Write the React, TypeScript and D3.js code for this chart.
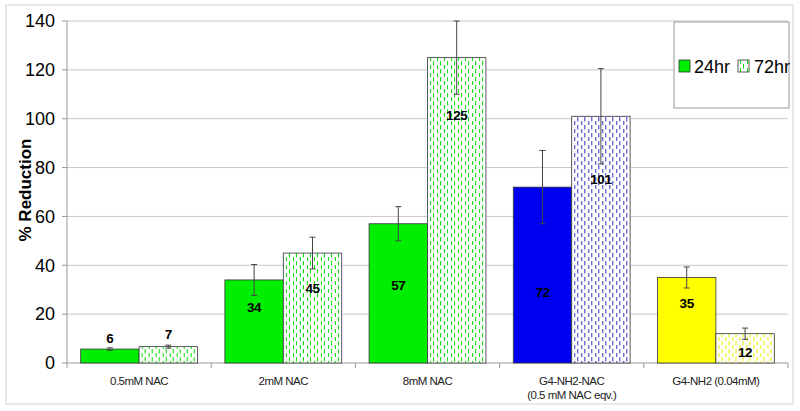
import * as d3 from 'd3';

const categories = ['0.5mM NAC', '2mM NAC', '8mM NAC', 'G4-NH2-NAC|(0.5 mM NAC eqv.)', 'G4-NH2 (0.04mM)'];
const series = ['24hr', '72hr'];
const values24 = [5.7, 34, 57, 72, 35];
const values72 = [6.7, 45, 125, 101, 12];
const err24 = [0.5, 6.3, 7, 15, 4.3];
const err72 = [0.6, 6.5, 15, 19.5, 2.3];
// where Excel left each data label, in % units
const label24 = [10.3, 22.9, 31.9, 29, 24.7];
const label72 = [11.9, 30.7, 101.4, 75.1, 4.6];
const yTicks = [0, 20, 40, 60, 80, 100, 120, 140];

const groupColors = ['#00ee00', '#00ee00', '#00ee00', '#0000f0', '#ffff00'];
const dashColors = ['#00e000', '#00e000', '#00e000', '#3030c8', '#f0f000'];

const W = 800;
const H = 411;
const margin = { top: 21, right: 12, bottom: 48, left: 67 };
const font = '"Liberation Sans", Arial, sans-serif';

export default function App() {
  const plotW = W - margin.left - margin.right;
  const plotH = H - margin.top - margin.bottom;

  const x0 = d3.scaleBand<number>()
    .domain(categories.map((_, i) => i))
    .range([0, plotW])
    .paddingInner(0.19)
    .paddingOuter(0.095);
  const x1 = d3.scaleBand<string>().domain(series).range([0, x0.bandwidth()]);
  const y = d3.scaleLinear().domain([0, 140]).range([plotH, 0]);
  const step = x0.step();

  const rows = categories.map((c, i) => ({
    i,
    c,
    bars: [
      { s: '24hr', v: values24[i], e: err24[i], l: label24[i] },
      { s: '72hr', v: values72[i], e: err72[i], l: label72[i] },
    ],
  }));

  return (
    <svg width={W} height={H} style={{ position: 'absolute', left: 0, top: 0, background: '#fff' }}>
      <defs>
        {dashColors.map((col, i) => (
          <pattern key={i} id={`dash${i}`} width={7} height={8} patternUnits="userSpaceOnUse">
            <rect width={7} height={8} fill="#fff" />
            <line x1={1.5} x2={1.5} y1={0} y2={4.5} stroke={col} strokeWidth={1} />
            <line x1={5.5} x2={5.5} y1={4} y2={8.5} stroke={col} strokeWidth={1} />
          </pattern>
        ))}
      </defs>
      <rect x={6} y={5} width={787} height={399} fill="none" stroke="#d4d4d4" />
      <g transform={`translate(${margin.left},${margin.top})`} fontFamily={font}>
        {yTicks.map(t => (
          <g key={t}>
            {t > 0 && <line x1={0} x2={plotW} y1={y(t)} y2={y(t)} stroke="#c8c8c8" />}
            <line x1={-5} x2={0} y1={y(t)} y2={y(t)} stroke="#999" />
            <text x={-12} y={y(t)} dy="0.35em" textAnchor="end" fontSize={18} fill="#000">{t}</text>
          </g>
        ))}
        <line x1={0} x2={0} y1={0} y2={plotH} stroke="#999" />
        <line x1={0} x2={plotW} y1={plotH} y2={plotH} stroke="#999" />
        {d3.range(categories.length + 1).map(k => (
          <line key={k} x1={k * step} x2={k * step} y1={plotH} y2={plotH + 5} stroke="#999" />
        ))}
        {rows.map(r => (
          <g key={r.i} transform={`translate(${x0(r.i)},0)`}>
            {r.bars.map(b => {
              const bx = x1(b.s)!;
              const cx = bx + x1.bandwidth() / 2;
              return (
                <g key={b.s}>
                  <rect
                    x={bx}
                    y={y(b.v)}
                    width={x1.bandwidth()}
                    height={plotH - y(b.v)}
                    fill={b.s === '24hr' ? groupColors[r.i] : `url(#dash${r.i})`}
                    stroke="#333"
                    strokeWidth={0.8}
                  />
                  <g stroke="#444" strokeWidth={1}>
                    <line x1={cx} x2={cx} y1={y(b.v + b.e)} y2={y(b.v - b.e)} />
                    <line x1={cx - 3} x2={cx + 3} y1={y(b.v + b.e)} y2={y(b.v + b.e)} />
                    <line x1={cx - 3} x2={cx + 3} y1={y(b.v - b.e)} y2={y(b.v - b.e)} />
                  </g>
                  <text x={cx} y={y(b.l)} dy="0.36em" textAnchor="middle" fontSize={13.5} fontWeight="bold" letterSpacing={-0.4} fill="#000">
                    {Math.round(b.v)}
                  </text>
                </g>
              );
            })}
          </g>
        ))}
        {rows.map(r => (
          <text key={r.i} x={x0(r.i)! + x0.bandwidth() / 2} y={plotH + 22} textAnchor="middle" fontSize={11.5} letterSpacing={-0.5} fill="#222">
            {r.c.split('|').map((line, k) => (
              <tspan key={k} x={x0(r.i)! + x0.bandwidth() / 2} dy={k === 0 ? 0 : 14}>{line}</tspan>
            ))}
          </text>
        ))}
        <text
          transform={`translate(${25 - margin.left},${190 - margin.top}) rotate(-90)`}
          textAnchor="middle"
          dy="0.35em"
          fontSize={17}
          fontWeight="bold"
          fill="#000"
        >
          % Reduction
        </text>
      </g>
      <g fontFamily={font}>
        <rect x={674} y={22} width={115} height={86} fill="#fff" stroke="#999" />
        <rect x={679} y={60} width={11} height={12} fill={groupColors[0]} stroke="#333" strokeWidth={0.8} />
        <text x={694} y={73} fontSize={18} fill="#000">{series[0]}</text>
        <rect x={738} y={60} width={11} height={12} fill="url(#dash0)" stroke="#333" strokeWidth={0.8} />
        <text x={754} y={73} fontSize={18} fill="#000">{series[1]}</text>
      </g>
    </svg>
  );
}
